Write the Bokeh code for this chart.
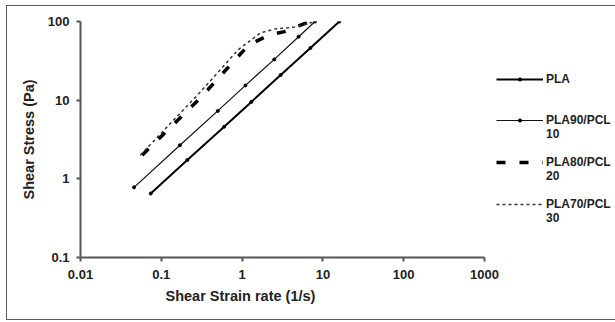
from bokeh.plotting import figure
from bokeh.models import Range1d, FixedTicker, Legend, LegendItem, Title
from bokeh.embed import file_html
from bokeh.resources import INLINE

x_ticks = [0.01, 0.1, 1, 10, 100, 1000]
x_tick_labels = ["0.01", "0.1", "1", "10", "100", "1000"]
y_ticks = [0.1, 1, 10, 100]
y_tick_labels = ["0.1", "1", "10", "100"]

series_names = ["PLA", " \nPLA90/PCL\n10", " \nPLA80/PCL\n20", " \nPLA70/PCL\n30"]

pla_x = [0.074, 0.21, 0.6, 1.3, 3, 7, 16]
pla_y = [0.65, 1.73, 4.6, 9.5, 20.9, 46, 100]
pla90_x = [0.046, 0.17, 0.5, 1.1, 2.5, 5, 8]
pla90_y = [0.78, 2.67, 7.3, 15.4, 33, 64, 100]
pla80_x = [0.058, 0.3, 0.85, 1.2, 2.2, 3.7, 5.3, 7]
pla80_y = [2.0, 10.5, 34, 50, 68, 76, 90, 100]
pla70_x = [0.055, 0.3, 0.9, 1.7, 2.5, 4.5, 8]
pla70_y = [2.0, 12.5, 44, 72, 80, 85, 100]

FONT = "Liberation Sans"
TXT = "#222222"

p = figure(x_axis_type="log", y_axis_type="log",
           x_range=Range1d(0.01, 1000), y_range=Range1d(0.1, 100),
           frame_width=404, frame_height=236,
           min_border_left=73, min_border_right=128,
           min_border_top=15, min_border_bottom=62,
           output_backend="svg", toolbar_location=None,
           background_fill_color="white", border_fill_color="white")
p.styles = {"border": "1px solid #5a5a5a", "margin": "5px 0px 0px 6px"}
p.outline_line_color = None
p.grid.visible = False

for ax, ticks, labels in ((p.xaxis, x_ticks, x_tick_labels), (p.yaxis, y_ticks, y_tick_labels)):
    ax.ticker = FixedTicker(ticks=ticks)
    ax.major_label_overrides = {t: s for t, s in zip(ticks, labels)}
    ax.minor_tick_line_color = None
    ax.axis_line_color = "#555555"
    ax.axis_line_width = 2
    ax.major_tick_line_color = "#555555"
    ax.major_tick_line_width = 2
    ax.major_tick_in = 0
    ax.major_tick_out = 4
    ax.major_label_text_font = FONT
    ax.major_label_text_font_style = "bold"
    ax.major_label_text_font_size = "13px"
    ax.major_label_text_color = TXT

p.xaxis.major_label_standoff = 8
p.yaxis.major_label_standoff = 7
p.yaxis.axis_label = "Shear Stress (Pa)"
p.yaxis.axis_label_text_font = FONT
p.yaxis.axis_label_text_font_style = "bold"
p.yaxis.axis_label_text_font_size = "14.5px"
p.yaxis.axis_label_text_color = TXT
p.yaxis.axis_label_standoff = 8

xt = Title(text="Shear Strain rate (1/s)", align="left", offset=85,
           text_font=FONT, text_font_style="bold", text_font_size="14.5px",
           text_color=TXT, standoff=8)
p.add_layout(xt, "below")

r1 = p.line(pla_x, pla_y, line_color="black", line_width=2)
s1 = p.scatter(pla_x, pla_y, size=3, color="black")
r2 = p.line(pla90_x, pla90_y, line_color="#111111", line_width=1.2)
s2 = p.scatter(pla90_x, pla90_y, size=3, color="black")
r3 = p.line(pla80_x, pla80_y, line_color="black", line_width=3.5, line_dash="9 14")
r4 = p.line(pla70_x, pla70_y, line_color="#333333", line_width=1.5, line_dash="3 3")

legend = Legend(items=[
    LegendItem(label=series_names[0], renderers=[r1, s1]),
    LegendItem(label=series_names[1], renderers=[r2, s2]),
    LegendItem(label=series_names[2], renderers=[r3]),
    LegendItem(label=series_names[3], renderers=[r4]),
], location=(12, 32), margin=0, padding=0, spacing=0,
    glyph_width=47, glyph_height=8, label_height=41, label_standoff=3,
    label_text_font=FONT, label_text_font_style="bold",
    label_text_font_size="12px", label_text_line_height=1.2,
    label_text_color=TXT,
    border_line_color=None, background_fill_alpha=0)
p.add_layout(legend, "right")

open("out.html", "w").write(file_html(p, INLINE))
